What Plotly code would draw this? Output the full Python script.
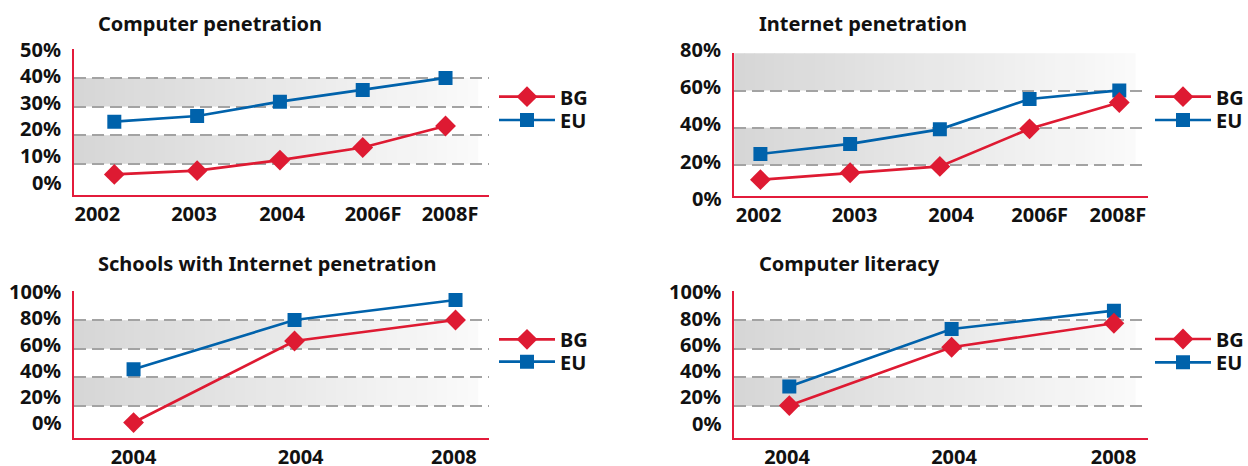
import plotly.graph_objects as go

W, H = 1248, 466

# ---------------- data ----------------
cp_title = "Computer penetration"
cp_cats = ["2002", "2003", "2004", "2006F", "2008F"]
cp_bg = [6.3, 7.6, 11.3, 15.7, 23.2]
cp_eu = [24.7, 26.7, 31.7, 35.8, 40.0]
cp_ticks = [0, 10, 20, 30, 40, 50]

ip_title = "Internet penetration"
ip_cats = ["2002", "2003", "2004", "2006F", "2008F"]
ip_bg = [12.2, 15.9, 19.3, 39.5, 53.6]
ip_eu = [26.0, 31.4, 39.2, 55.5, 60.1]
ip_ticks = [0, 20, 40, 60, 80]

si_title = "Schools with Internet penetration"
si_cats = ["2004", "2004", "2008"]
si_bg = [8.4, 65.5, 80.2]
si_eu = [45.7, 80.2, 94.2]
si_ticks = [0, 20, 40, 60, 80, 100]

cl_title = "Computer literacy"
cl_cats = ["2004", "2004", "2008"]
cl_bg = [20.3, 61.1, 77.9]
cl_eu = [33.6, 73.9, 86.7]
cl_ticks = [0, 20, 40, 60, 80, 100]

series_names = ["BG", "EU"]

# ---------------- style / layout ----------------
RED = "#de1a32"
BLUE = "#0062ab"
AXIS_RED = "#e31b3b"
GRID = "#a3a3a3"
FONT = dict(family="Noto Sans, Open Sans, sans-serif", size=20, color="#111111", weight="bold")


def px_x(p):
    return p / W


def px_y(p):
    return 1 - p / H


# pixel geometry of each panel (left, right, top, bottom of plot area;
# pixel rows of top / zero tick labels; legend anchor and item rows)
panels = [
    dict(title=cp_title, cats=cp_cats, bg=cp_bg, eu=cp_eu, ticks=cp_ticks,
         box=(74, 489, 49.3, 195), yrange=[-0.9, 50], lab_px=(49.3, 182),
         bands=[(10, 20), (30, 40)], xrange=[-0.487, 4.525], band_end=0.972,
         nudge=[-0.205, -0.037, 0.025, 0.124, 0.054],
         title_pos=(96, 23), leg_x=494, leg_rows=(96.7, 120)),
    dict(title=ip_title, cats=ip_cats, bg=ip_bg, eu=ip_eu, ticks=ip_ticks,
         box=(734.3, 1148, 53.3, 195.5), yrange=[3.7, 80], lab_px=(49.3, 198.3),
         bands=[(20, 40), (60, 80)], xrange=[-0.291, 4.32], band_end=0.968,
         nudge=[-0.02, 0.049, 0.126, 0.113, -0.015],
         title_pos=(756.5, 23), leg_x=1150, leg_rows=(96.7, 120)),
    dict(title=si_title, cats=si_cats, bg=si_bg, eu=si_eu, ticks=si_ticks,
         box=(74, 489, 291.7, 437.7), yrange=[-2.2, 100], lab_px=(291.7, 422.7),
         bands=[(20, 40), (60, 80)], xrange=[-0.37, 2.208], band_end=0.972,
         nudge=[0.0, 0.038, -0.01],
         title_pos=(96, 263.3), leg_x=494, leg_rows=(339.3, 361.7)),
    dict(title=cl_title, cats=cl_cats, bg=cl_bg, eu=cl_eu, ticks=cl_ticks,
         box=(734.3, 1148, 291.7, 437.7), yrange=[-2.2, 100], lab_px=(291.7, 423.3),
         bands=[(20, 40), (60, 80)], xrange=[-0.339, 2.21], band_end=0.968,
         nudge=[-0.014, 0.015, -0.002],
         title_pos=(756.5, 263.3), leg_x=1150, leg_rows=(339, 362.3)),
]
LEG_IW = 56

fig = go.Figure()
layout = dict(
    width=W, height=H, margin=dict(l=0, r=0, t=0, b=0, autoexpand=False),
    paper_bgcolor="white", plot_bgcolor="white",
    font=FONT, showlegend=True, annotations=[], shapes=[],
)


def lerp_color(c0, c1, t):
    r = round(c0 + (c1 - c0) * t)
    return f"rgb({r},{r},{r})"


leg_count = 0
for i, p in enumerate(panels, start=1):
    suf = "" if i == 1 else str(i)
    xa, ya = f"x{suf}", f"y{suf}"
    idx = list(range(len(p["cats"])))
    left, right, top, bottom = p["box"]

    leg_names = []
    for _ in range(2):
        leg_count += 1
        leg_names.append("legend" if leg_count == 1 else f"legend{leg_count}")

    # EU first (drawn underneath), BG on top
    fig.add_trace(go.Scatter(
        x=idx, y=p["eu"], name=series_names[1], mode="lines+markers",
        xaxis=xa, yaxis=ya, legend=leg_names[1],
        line=dict(color=BLUE, width=2.7),
        marker=dict(symbol="square", size=14, color=BLUE),
        hoverinfo="skip"))
    fig.add_trace(go.Scatter(
        x=idx, y=p["bg"], name=series_names[0], mode="lines+markers",
        xaxis=xa, yaxis=ya, legend=leg_names[0],
        line=dict(color=RED, width=2.7),
        marker=dict(symbol="diamond", size=16, color=RED),
        hoverinfo="skip"))

    # small headroom so the top gridline is not lost at the edge
    y0r, y1r = p["yrange"]
    unit = (bottom - top) / (y1r - y0r)
    yr = [y0r, y1r + 0.6 / unit]

    layout[f"xaxis{suf}"] = dict(
        domain=[px_x(left), px_x(right)], anchor=ya, range=p["xrange"],
        tickmode="array", tickvals=[k + n for k, n in zip(idx, p["nudge"])],
        ticktext=p["cats"], tickangle=0, showgrid=False, zeroline=False,
        showline=True, linecolor=AXIS_RED, linewidth=2, ticks="",
        ticklabelstandoff=0, tickfont=FONT, fixedrange=True, automargin=False)
    layout[f"yaxis{suf}"] = dict(
        domain=[px_y(bottom), px_y(top - 0.6)], anchor=xa, range=yr,
        tickmode="array", tickvals=p["ticks"][1:], showticklabels=False,
        showgrid=True, gridcolor=GRID, gridwidth=1.7, griddash="12px,6px",
        zeroline=False, showline=True, linecolor=AXIS_RED, linewidth=2,
        ticks="", fixedrange=True, automargin=False)

    # y tick labels: evenly spaced between the top and zero label rows
    lt, lb = p["lab_px"]
    vmax = p["ticks"][-1]
    for v in p["ticks"]:
        ypx = lb - (lb - lt) * v / vmax
        layout["annotations"].append(dict(
            text=f"{v}%", xref="paper", yref="paper",
            x=px_x(left - 11), y=px_y(ypx), xanchor="right", yanchor="middle",
            showarrow=False, font=FONT))

    # gradient bands
    steps = 40
    end_frac = p["band_end"]
    for (b0, b1) in p["bands"]:
        for s in range(steps):
            t = s / (steps - 1)
            layout["shapes"].append(dict(
                type="rect", xref=f"{xa} domain", yref=ya,
                x0=end_frac * s / steps, x1=end_frac * (s + 1) / steps + 0.002,
                y0=b0, y1=b1, line=dict(width=0),
                fillcolor=lerp_color(214, 250, t), layer="below"))

    layout["annotations"].append(dict(
        text=p["title"], xref="paper", yref="paper",
        x=px_x(p["title_pos"][0]), y=px_y(p["title_pos"][1]),
        xanchor="left", yanchor="middle", showarrow=False, font=FONT))

    for name, row in zip(leg_names, p["leg_rows"]):
        layout[name] = dict(
            x=px_x(p["leg_x"]), y=px_y(row),
            xanchor="left", yanchor="middle", bgcolor="rgba(0,0,0,0)",
            borderwidth=0, font=FONT, tracegroupgap=0, itemwidth=LEG_IW)

fig.update_layout(**layout)
fig.write_html(
    "out.html",
    config={"displayModeBar": False},
    post_script="document.body.style.margin='0';document.body.style.padding='0';",
)
